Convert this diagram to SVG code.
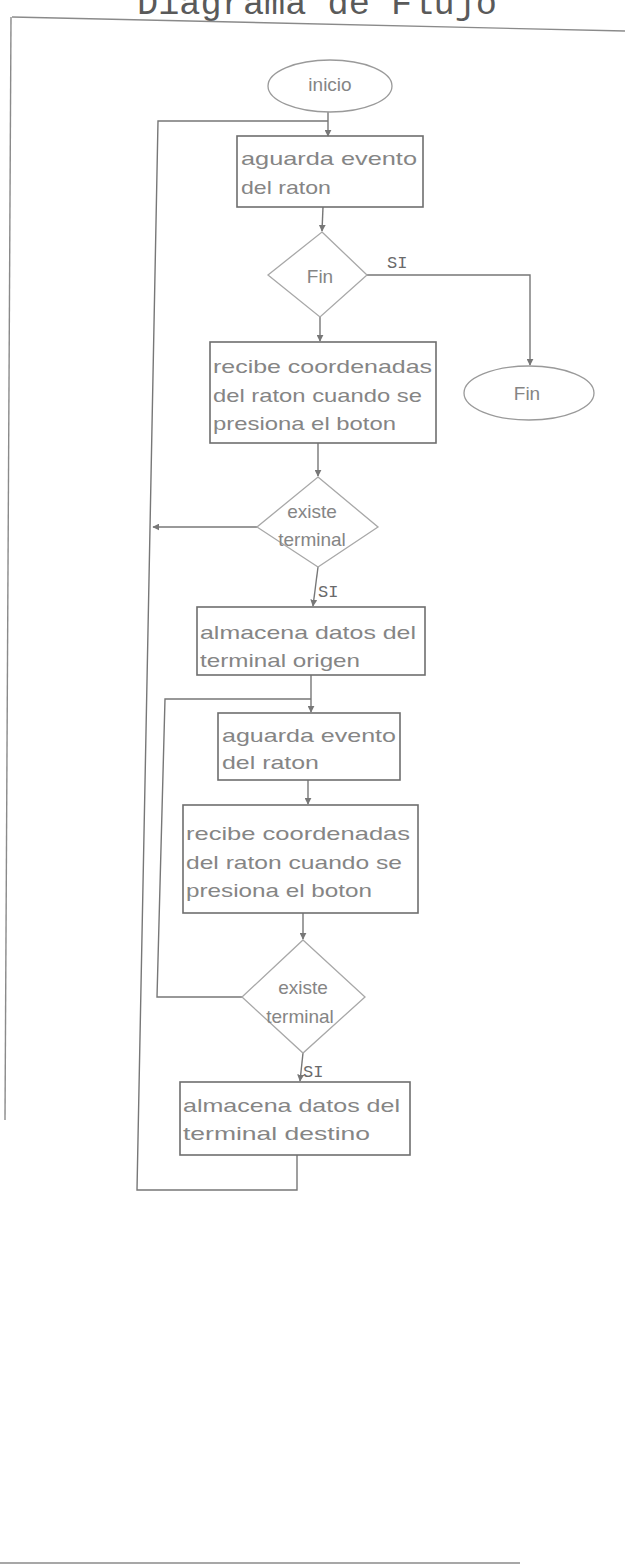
<svg xmlns="http://www.w3.org/2000/svg" width="625" height="1567" viewBox="0 0 625 1567">
  <style>
    .page { fill: none; stroke: #8a8a8a; stroke-width: 1.4; }
    .box { fill: none; stroke: #6e6e6e; stroke-width: 1.6; }
    .dec { fill: none; stroke: #a8a8a8; stroke-width: 1.3; }
    .term { fill: none; stroke: #9a9a9a; stroke-width: 1.3; }
    .wire { fill: none; stroke: #777; stroke-width: 1.4; }
    .txt { font-family: "Liberation Sans", Arial, sans-serif; font-size: 19px; fill: #858585; }
    .ctr { text-anchor: middle; }
    .lbl { font-family: "Liberation Mono", "Courier New", monospace; font-size: 17px; fill: #6a6a6a; }
    .title { font-family: "Liberation Mono", "Courier New", monospace; font-size: 35px; fill: #5a5a5a; }
  </style>
  <defs>
    <marker id="arr" viewBox="0 0 10 10" refX="9" refY="5" markerWidth="7" markerHeight="7" markerUnits="userSpaceOnUse" orient="auto">
      <path d="M0,0 L10,5 L0,10 z" fill="#777"/>
    </marker>
  </defs>

  <rect width="625" height="1567" fill="#ffffff"/>

  <!-- page frame and heading -->
  <g id="page">
    <text class="title" x="137" y="14" textLength="360" lengthAdjust="spacingAndGlyphs">Diagrama de Flujo</text>
    <line class="page" x1="12" y1="17" x2="625" y2="31"/>
    <line class="page" x1="11" y1="17" x2="5" y2="1120" stroke="#bbb"/>
    <line class="page" x1="0" y1="1563" x2="260" y2="1563" stroke="#999"/>
    <line class="page" x1="260" y1="1563" x2="520" y2="1563" stroke="#ccc"/>
  </g>

  <!-- connectors -->
  <g id="connectors">
    <!-- start to first wait -->
    <line class="wire" x1="328" y1="112" x2="328" y2="136" marker-end="url(#arr)"/>
    <!-- outer loop -->
    <polyline class="wire" points="297,1155 297,1190 137,1190 158,121 328,121"/>
    <!-- wait -> Fin? -->
    <line class="wire" x1="323" y1="207" x2="322" y2="231" marker-end="url(#arr)"/>
    <!-- Fin? yes -> end -->
    <polyline class="wire" points="367,275 530,275 530,365" marker-end="url(#arr)"/>
    <!-- Fin? no -> read coordinates -->
    <line class="wire" x1="320" y1="317" x2="320" y2="341" marker-end="url(#arr)"/>
    <!-- read coordinates -> exists terminal -->
    <line class="wire" x1="318" y1="443" x2="318" y2="476" marker-end="url(#arr)"/>
    <!-- exists terminal no -> outer loop -->
    <line class="wire" x1="257" y1="527" x2="153" y2="527" marker-end="url(#arr)"/>
    <!-- exists terminal yes -> store origin -->
    <line class="wire" x1="318" y1="567" x2="313" y2="606" marker-end="url(#arr)"/>
    <!-- store origin -> second wait -->
    <line class="wire" x1="311" y1="675" x2="311" y2="712" marker-end="url(#arr)"/>
    <!-- inner loop -->
    <polyline class="wire" points="242,997 157,997 165,699 311,699"/>
    <!-- second wait -> read coordinates -->
    <line class="wire" x1="308" y1="780" x2="308" y2="804" marker-end="url(#arr)"/>
    <!-- read coordinates -> exists terminal -->
    <line class="wire" x1="303" y1="913" x2="303" y2="939" marker-end="url(#arr)"/>
    <!-- exists terminal yes -> store destination -->
    <line class="wire" x1="303" y1="1053" x2="300" y2="1081" marker-end="url(#arr)"/>
  </g>

  <!-- branch labels -->
  <g id="labels">
    <text class="lbl" x="387" y="268">SI</text>
    <text class="lbl" x="318" y="597">SI</text>
    <text class="lbl" x="303" y="1077">SI</text>
  </g>

  <g id="inicio">
    <ellipse class="term" cx="330" cy="86" rx="62" ry="26"/>
    <text class="txt ctr" x="330" y="91" font-size="14">inicio</text>
  </g>

  <g id="aguarda1">
    <rect class="box" x="237" y="136" width="186" height="71"/>
    <text class="txt" x="241" y="165" textLength="176" lengthAdjust="spacingAndGlyphs">aguarda evento</text>
    <text class="txt" x="241" y="194" textLength="90" lengthAdjust="spacingAndGlyphs">del raton</text>
  </g>

  <g id="finq">
    <polygon class="dec" points="322,232 367,275 320,317 268,275"/>
    <text class="txt ctr" x="320" y="283" font-size="17">Fin</text>
  </g>

  <g id="fin">
    <ellipse class="term" cx="529" cy="393" rx="65" ry="27"/>
    <text class="txt ctr" x="527" y="400" font-size="17">Fin</text>
  </g>

  <g id="recibe1">
    <rect class="box" x="210" y="342" width="226" height="101"/>
    <text class="txt" x="213" y="373" textLength="219" lengthAdjust="spacingAndGlyphs">recibe coordenadas</text>
    <text class="txt" x="213" y="402" textLength="209" lengthAdjust="spacingAndGlyphs">del raton cuando se</text>
    <text class="txt" x="213" y="430" textLength="183" lengthAdjust="spacingAndGlyphs">presiona el boton</text>
  </g>

  <g id="existe1">
    <polygon class="dec" points="318,477 378,527 318,567 257,527"/>
    <text class="txt ctr" x="312" y="518" font-size="16">existe</text>
    <text class="txt ctr" x="312" y="546" font-size="16">terminal</text>
  </g>

  <g id="origen">
    <rect class="box" x="197" y="607" width="228" height="68"/>
    <text class="txt" x="200" y="639" textLength="216" lengthAdjust="spacingAndGlyphs">almacena datos del</text>
    <text class="txt" x="200" y="667" textLength="160" lengthAdjust="spacingAndGlyphs">terminal origen</text>
  </g>

  <g id="aguarda2">
    <rect class="box" x="218" y="713" width="182" height="67"/>
    <text class="txt" x="222" y="742" textLength="174" lengthAdjust="spacingAndGlyphs">aguarda evento</text>
    <text class="txt" x="222" y="769" textLength="97" lengthAdjust="spacingAndGlyphs">del raton</text>
  </g>

  <g id="recibe2">
    <rect class="box" x="183" y="805" width="235" height="108"/>
    <text class="txt" x="186" y="840" textLength="224" lengthAdjust="spacingAndGlyphs">recibe coordenadas</text>
    <text class="txt" x="186" y="869" textLength="216" lengthAdjust="spacingAndGlyphs">del raton cuando se</text>
    <text class="txt" x="186" y="897" textLength="186" lengthAdjust="spacingAndGlyphs">presiona el boton</text>
  </g>

  <g id="existe2">
    <polygon class="dec" points="303,940 365,997 303,1053 242,997"/>
    <text class="txt ctr" x="303" y="994" font-size="16">existe</text>
    <text class="txt ctr" x="300" y="1023" font-size="16">terminal</text>
  </g>

  <g id="destino">
    <rect class="box" x="180" y="1082" width="230" height="73"/>
    <text class="txt" x="183" y="1112" textLength="217" lengthAdjust="spacingAndGlyphs">almacena datos del</text>
    <text class="txt" x="183" y="1140" textLength="187" lengthAdjust="spacingAndGlyphs">terminal destino</text>
  </g>
</svg>
